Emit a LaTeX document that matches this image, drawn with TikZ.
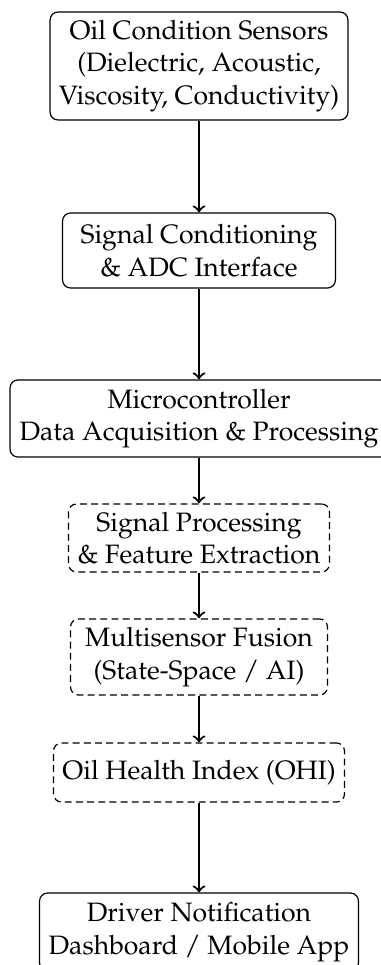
\documentclass[tikz,border=0pt]{standalone}
\usepackage[T1]{fontenc}
\usepackage{mathpazo}
\begin{document}
\begin{tikzpicture}[x=0.376pt,y=-0.376pt,
  box/.style={draw, rounded corners=3pt, line width=0.45pt, align=center, inner sep=1pt, font=\fontsize{10}{12.2}\selectfont},
  dbox/.style={box, dash pattern=on 2.6pt off 1.6pt},
  arr/.style={->, line width=0.8pt}]
\useasboundingbox (0,0) rectangle (380,965);
\node[box, minimum width=112pt, minimum height=40.6pt] (n1) at (199,66) {Oil Condition Sensors\\(Dielectric, Acoustic,\\Viscosity, Conductivity)};
\node[box, minimum width=102.6pt, minimum height=28.2pt] (n2) at (199,250.5) {Signal Conditioning\\\& ADC Interface};
\node[box, minimum width=142.1pt, minimum height=29pt] (n3) at (199,418.5) {Microcontroller\\Data Acquisition \& Processing};
\node[dbox, minimum width=98.1pt, minimum height=25.6pt] (n4) at (199,538) {Signal Processing\\\& Feature Extraction};
\node[dbox, minimum width=96.6pt, minimum height=28.6pt] (n5) at (199,657) {Multisensor Fusion\\(State-Space / AI)};
\node[dbox, minimum width=109.4pt, minimum height=22.2pt] (n6) at (199,772.5) {Oil Health Index (OHI)};
\node[box, minimum width=119.9pt, minimum height=29.3pt] (n7) at (199,932) {Driver Notification\\Dashboard / Mobile App};
\draw[arr] (n1) -- (n2);
\draw[arr] (n2) -- (n3);
\draw[arr] (n3) -- (n4);
\draw[arr] (n4) -- (n5);
\draw[arr] (n5) -- (n6);
\draw[arr] (n6) -- (n7);
\end{tikzpicture}
\end{document}
